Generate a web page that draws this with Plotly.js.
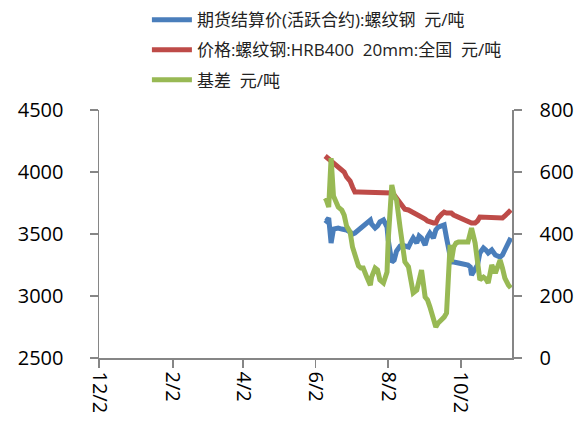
<!DOCTYPE html>
<html>
<head>
<meta charset="utf-8">
<script src="https://cdn.plot.ly/plotly-3.0.1.min.js"></script>
<style>
html,body{margin:0;padding:0;background:#fff;}
#chart{width:584px;height:425px;}
</style>
</head>
<body>
<div id="chart"></div>
<script>
const dates = [
'2013-06-10','2013-06-11','2013-06-13','2013-06-14','2013-06-15','2013-06-17','2013-06-19','2013-06-21','2013-06-24','2013-06-26','2013-06-28',
'2013-07-01','2013-07-03','2013-07-05','2013-07-08','2013-07-10','2013-07-12','2013-07-15','2013-07-18','2013-07-19','2013-07-22','2013-07-24','2013-07-26','2013-07-29',
'2013-08-01','2013-08-02','2013-08-05','2013-08-07','2013-08-09','2013-08-12','2013-08-14','2013-08-16','2013-08-19','2013-08-21','2013-08-23','2013-08-26','2013-08-28','2013-08-30',
'2013-09-02','2013-09-04','2013-09-06','2013-09-09','2013-09-11','2013-09-13','2013-09-16','2013-09-18','2013-09-20','2013-09-23','2013-09-24','2013-09-26','2013-09-28','2013-09-30',
'2013-10-08','2013-10-10','2013-10-11','2013-10-14','2013-10-16','2013-10-18','2013-10-21','2013-10-23','2013-10-25','2013-10-28','2013-10-31',
'2013-11-04','2013-11-06','2013-11-08','2013-11-11','2013-11-13'];

const futuresPrice = [
3613,3605,3629,3484,3427,3540,3548,3548,3540,3540,3532,
3516,3500,3508,3532,3548,3556,3581,3613,3581,3548,3565,3597,3613,
3556,3452,3274,3290,3363,3403,3411,3403,3395,3435,3468,3427,3484,3468,
3411,3476,3508,3468,3532,3556,3573,3573,3468,3314,3274,3274,3274,3266,
3250,3234,3169,3210,3250,3347,3387,3371,3347,3371,3331,
3314,3331,3371,3427,3468];

const spotPrice = [
4129,4121,4105,4089,4081,4064,4048,4032,4016,4000,3960,
3927,3879,3839,3839,3839,3839,3839,3839,3839,3839,3839,3839,3839,
3839,3839,3831,3815,3790,3750,3726,3700,3694,3685,3669,3661,3653,3637,
3621,3605,3597,3589,3589,3629,3661,3677,3669,3669,3669,3653,3645,3637,
3605,3597,3589,3589,3605,3637,3637,3637,3637,3629,3629,
3629,3629,3645,3677,3694];

const basis = [
516,510,487,606,645,523,500,487,477,461,426,
406,358,329,297,290,290,261,235,261,290,284,252,242,
277,381,558,523,510,420,358,310,294,250,210,219,252,284,
197,187,165,123,100,113,123,132,145,365,310,358,371,374,
374,406,419,371,294,252,261,255,242,300,274,
316,290,258,235,226];

const seriesNames = ['期货结算价(活跃合约):螺纹钢  元/吨', '价格:螺纹钢:HRB400  20mm:全国  元/吨', '基差  元/吨'];
const tickDates = ['2012-12-02','2013-02-02','2013-04-02','2013-06-02','2013-08-02','2013-10-02'];
const tickLabels = ['12/2','2/2','4/2','6/2','8/2','10/2'];

const font = 'Open Sans, Noto Sans CJK SC, sans-serif';
const axisColor = '#868686';

const traces = [
  {x: dates, y: futuresPrice, name: seriesNames[0], type: 'scatter', mode: 'lines',
   line: {color: '#4A7EBB', width: 5}, legendgroup: 'a'},
  {x: dates, y: spotPrice, name: seriesNames[1], type: 'scatter', mode: 'lines',
   line: {color: '#BE4B48', width: 5}, legendgroup: 'b'},
  {x: dates, y: basis, name: seriesNames[2], type: 'scatter', mode: 'lines', yaxis: 'y2',
   line: {color: '#98B954', width: 5}, legendgroup: 'c'}
];

const layout = {
  width: 584, height: 425,
  margin: {l: 99, r: 72, t: 110, b: 67, pad: 0, autoexpand: false},
  paper_bgcolor: '#fff', plot_bgcolor: '#fff',
  font: {family: font, color: '#000'},
  showlegend: true,
  legend: {x: 0.116, y: 1.435, xanchor: 'left', yanchor: 'top', orientation: 'v',
    font: {family: font, size: 17, color: '#222'}, tracegroupgap: 5, itemwidth: 40,
    bgcolor: 'rgba(0,0,0,0)'},
  xaxis: {type: 'date', range: ['2012-12-02', '2013-11-14'],
    tickmode: 'array', tickvals: tickDates, ticktext: tickLabels, tickangle: 90,
    ticks: 'outside', ticklen: 8, tickcolor: axisColor, tickwidth: 1.5,
    showline: true, linecolor: axisColor, linewidth: 1.5, showgrid: false, zeroline: false,
    tickfont: {family: font, size: 20, color: '#000'}},
  yaxis: {range: [2500, 4500], tickmode: 'array', tickvals: [2500,3000,3500,4000,4500],
    ticks: 'outside', ticklen: 8, tickcolor: axisColor, tickwidth: 1.5,
    showline: true, linecolor: axisColor, linewidth: 1.5, showgrid: false, zeroline: false,
    ticklabelstandoff: 22,
    tickfont: {family: font, size: 20, color: '#000'}},
  yaxis2: {range: [0, 800], tickmode: 'array', tickvals: [0,200,400,600,800], overlaying: 'y', side: 'right',
    ticks: 'outside', ticklen: 8, tickcolor: axisColor, tickwidth: 1.5,
    showline: true, linecolor: axisColor, linewidth: 1.5, showgrid: false, zeroline: false,
    ticklabelstandoff: 14,
    tickfont: {family: font, size: 20, color: '#000'}}
};

Plotly.newPlot('chart', traces, layout, {displayModeBar: false, staticPlot: true});
</script>
</body>
</html>
